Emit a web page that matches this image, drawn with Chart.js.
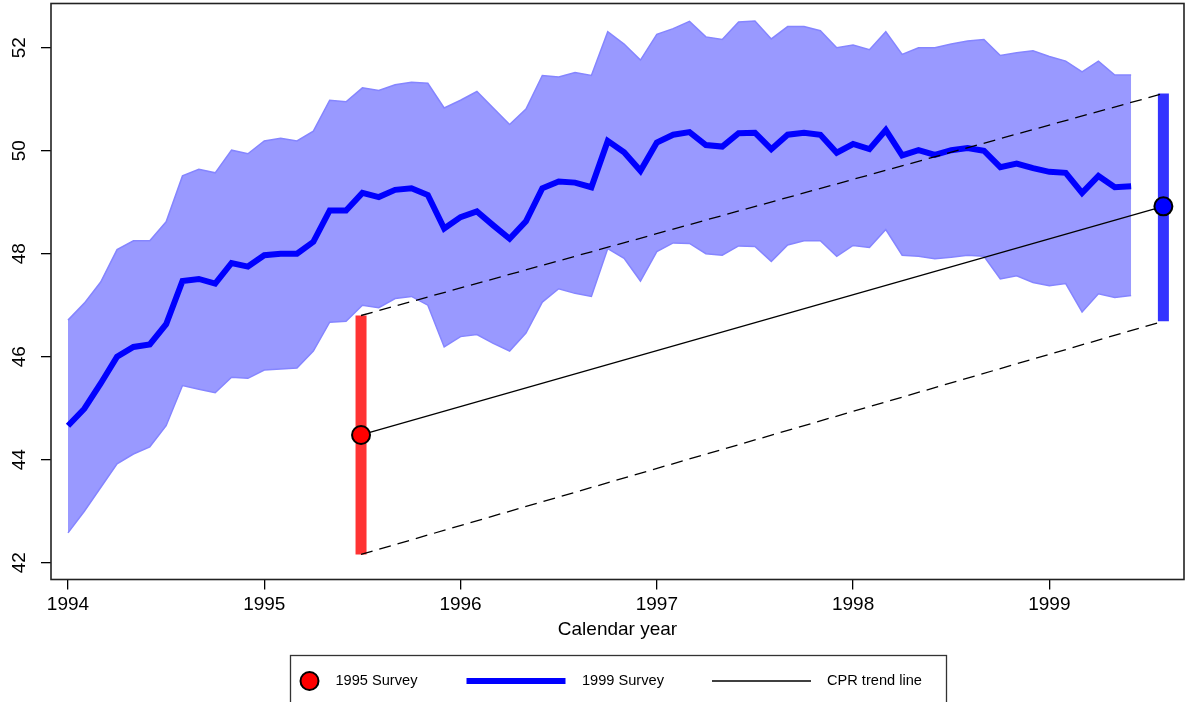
<!DOCTYPE html>
<html><head><meta charset="utf-8">
<script src="https://cdn.jsdelivr.net/npm/chart.js@4.4.1/dist/chart.umd.min.js"></script>
<style>html,body{margin:0;padding:0;background:#fff;overflow:hidden}</style>
</head><body>
<canvas id="c" width="1186" height="702"></canvas>
<script>
// ---- data ----
const months = [
 '1994-01','1994-02','1994-03','1994-04','1994-05','1994-06','1994-07','1994-08','1994-09','1994-10','1994-11','1994-12',
 '1995-01','1995-02','1995-03','1995-04','1995-05','1995-06','1995-07','1995-08','1995-09','1995-10','1995-11','1995-12',
 '1996-01','1996-02','1996-03','1996-04','1996-05','1996-06','1996-07','1996-08','1996-09','1996-10','1996-11','1996-12',
 '1997-01','1997-02','1997-03','1997-04','1997-05','1997-06','1997-07','1997-08','1997-09','1997-10','1997-11','1997-12',
 '1998-01','1998-02','1998-03','1998-04','1998-05','1998-06','1998-07','1998-08','1998-09','1998-10','1998-11','1998-12',
 '1999-01','1999-02','1999-03','1999-04','1999-05','1999-06'];
const cpr1999 = [44.66,44.99,45.48,46.00,46.19,46.24,46.63,47.47,47.51,47.42,47.82,47.75,
 47.97,48.00,48.00,48.23,48.84,48.84,49.18,49.10,49.24,49.27,49.14,48.49,
 48.71,48.82,48.55,48.29,48.63,49.27,49.40,49.38,49.29,50.19,49.97,49.61,
 50.16,50.31,50.36,50.11,50.08,50.34,50.35,50.03,50.31,50.35,50.31,49.96,
 50.13,50.03,50.40,49.91,50.01,49.92,50.01,50.05,50.00,49.68,49.75,49.66,
 49.59,49.57,49.18,49.51,49.29,49.31];
const cpr1999Upper = [46.71,47.04,47.45,48.08,48.25,48.25,48.62,49.51,49.64,49.57,50.01,49.94,
 50.19,50.24,50.19,50.38,50.98,50.95,51.22,51.17,51.28,51.33,51.31,50.83,
 50.98,51.15,50.83,50.51,50.81,51.46,51.43,51.52,51.46,52.31,52.07,51.76,
 52.26,52.37,52.51,52.21,52.16,52.50,52.52,52.17,52.41,52.41,52.33,52.00,
 52.05,51.96,52.31,51.87,52.00,52.00,52.07,52.13,52.16,51.85,51.90,51.94,
 51.83,51.74,51.53,51.74,51.47,51.47];
const cpr1999Lower = [42.58,43.00,43.46,43.92,44.11,44.25,44.66,45.44,45.37,45.30,45.60,45.58,
 45.74,45.76,45.78,46.11,46.67,46.69,47.00,46.95,47.13,47.17,47.00,46.19,
 46.39,46.43,46.26,46.11,46.46,47.06,47.32,47.23,47.17,48.10,47.91,47.47,
 48.04,48.21,48.20,48.00,47.97,48.15,48.14,47.85,48.17,48.25,48.25,47.95,
 48.16,48.12,48.47,47.97,47.95,47.90,47.93,47.97,47.95,47.51,47.57,47.44,
 47.38,47.42,46.87,47.22,47.15,47.19];
const surveyNames = ['1995 Survey','1999 Survey'];
const surveyDates = [1995.493, 1999.581];
const surveyEstimates = [44.48, 48.92];
const surveyLower = [42.16, 46.69];
const surveyUpper = [46.80, 51.11];
const xTickValues = [1994,1995,1996,1997,1998,1999];
const yTickValues = [42,44,46,48,50,52];
const legendLabels = ['1995 Survey','1999 Survey','CPR trend line'];
const xTitle = 'Calendar year';

// ---- build ----
const monthX = months.map(s => { const [y,m] = s.split('-').map(Number); return y + (m-1)/12; });
const pts = arr => arr.map((v,i)=>({x:monthX[i], y:v}));
const FONT = 'Liberation Sans, Arial, Helvetica, sans-serif';

const datasets = [
  {label:'upper', data:pts(cpr1999Upper), borderColor:'#8585ff', borderWidth:1.5, backgroundColor:'#9999ff', fill:'+1', pointRadius:0, order:10},
  {label:'lower', data:pts(cpr1999Lower), borderColor:'#8585ff', borderWidth:1.5, fill:false, pointRadius:0, order:9},
  {label:'1999 Survey', data:pts(cpr1999), borderColor:'#0000ff', borderWidth:6, fill:false, pointRadius:0, borderJoinStyle:'miter', order:8},
  {label:'bar95', data:[{x:surveyDates[0],y:surveyLower[0]},{x:surveyDates[0],y:surveyUpper[0]}], borderColor:'#ff3333', borderWidth:11, borderCapStyle:'butt', pointRadius:0, fill:false, order:7},
  {label:'bar99', data:[{x:surveyDates[1],y:surveyLower[1]},{x:surveyDates[1],y:surveyUpper[1]}], borderColor:'#3333ff', borderWidth:11, borderCapStyle:'butt', pointRadius:0, fill:false, order:7},
  {label:'CPR trend line', data:[{x:surveyDates[0],y:surveyEstimates[0]},{x:surveyDates[1],y:surveyEstimates[1]}], borderColor:'#000', borderWidth:1.3, pointRadius:0, fill:false, order:6},
  {label:'trendUpper', data:[{x:surveyDates[0],y:surveyUpper[0]},{x:surveyDates[1],y:surveyUpper[1]}], borderColor:'#000', borderWidth:1.3, borderDash:[12,7], pointRadius:0, fill:false, order:6},
  {label:'trendLower', data:[{x:surveyDates[0],y:surveyLower[0]},{x:surveyDates[1],y:surveyLower[1]}], borderColor:'#000', borderWidth:1.3, borderDash:[12,7], pointRadius:0, fill:false, order:6},
  {label:'1995 Survey', data:[{x:surveyDates[0],y:surveyEstimates[0]}], showLine:false, pointRadius:9, pointBorderWidth:2, pointBackgroundColor:'#ff0000', pointBorderColor:'#000', order:1},
  {label:'1999 Survey pt', data:[{x:surveyDates[1],y:surveyEstimates[1]}], showLine:false, pointRadius:9, pointBorderWidth:2, pointBackgroundColor:'#0000ff', pointBorderColor:'#000', order:1}
];

const decor = {
  id:'decor',
  afterDraw(chart){
    const {ctx, chartArea:a, scales:{y}} = chart;
    ctx.save();
    // frame
    ctx.strokeStyle = '#222'; ctx.lineWidth = 1.6;
    ctx.strokeRect(a.left, a.top, a.right-a.left, a.bottom-a.top);
    // rotated y tick labels
    ctx.fillStyle = '#000';
    ctx.font = '19px ' + FONT;
    ctx.textAlign = 'center'; ctx.textBaseline = 'middle';
    yTickValues.forEach(v => {
      const py = y.getPixelForValue(v);
      ctx.save(); ctx.translate(20, py); ctx.rotate(-Math.PI/2);
      ctx.fillText(String(v), 0, 0); ctx.restore();
    });
    // legend box
    ctx.strokeStyle = '#333'; ctx.lineWidth = 1.3;
    ctx.strokeRect(290.5, 655.5, 656, 60);
    const ly = 681;
    ctx.font = '14.6px ' + FONT; ctx.textAlign = 'left';
    ctx.beginPath(); ctx.arc(309.5, ly, 9, 0, Math.PI*2);
    ctx.fillStyle = '#ff0000'; ctx.fill(); ctx.lineWidth = 2; ctx.strokeStyle = '#000'; ctx.stroke();
    ctx.fillStyle = '#000'; ctx.fillText(legendLabels[0], 335.5, ly);
    ctx.beginPath(); ctx.moveTo(466.5, ly); ctx.lineTo(565.5, ly); ctx.lineWidth = 6; ctx.strokeStyle = '#0000ff'; ctx.stroke();
    ctx.fillText(legendLabels[1], 582, ly);
    ctx.beginPath(); ctx.moveTo(712, ly); ctx.lineTo(811, ly); ctx.lineWidth = 1.3; ctx.strokeStyle = '#000'; ctx.stroke();
    ctx.fillText(legendLabels[2], 827, ly);
    ctx.restore();
  }
};

new Chart(document.getElementById('c'), {
  type:'line',
  data:{datasets},
  options:{
    responsive:false, animation:false, devicePixelRatio:1,
    layout:{autoPadding:false, padding:{top:3.5, right:2, bottom:0, left:0}},
    plugins:{legend:{display:false}, tooltip:{enabled:false}},
    scales:{
      x:{type:'linear', min:1993.9134, max:1999.686,
        afterBuildTicks: s => { s.ticks = xTickValues.map(v=>({value:v})); },
        afterFit: s => { s.height = 122.5; },
        grid:{drawOnChartArea:false, drawTicks:true, tickLength:10, color:'#000', lineWidth:1.3},
        border:{display:false},
        ticks:{font:{family:FONT, size:19}, color:'#000', padding:3.5, maxRotation:0, autoSkip:false, callback: v => String(v)},
        title:{display:true, text:xTitle, color:'#000', font:{family:FONT, size:19}, padding:{top:0, bottom:60.6}}
      },
      y:{type:'linear', min:41.674, max:52.858,
        afterBuildTicks: s => { s.ticks = yTickValues.map(v=>({value:v})); },
        afterFit: s => { s.width = 51; },
        grid:{drawOnChartArea:false, drawTicks:true, tickLength:10, color:'#000', lineWidth:1.3},
        border:{display:false},
        ticks:{display:false}
      }
    }
  },
  plugins:[decor]
});
</script>
</body></html>
